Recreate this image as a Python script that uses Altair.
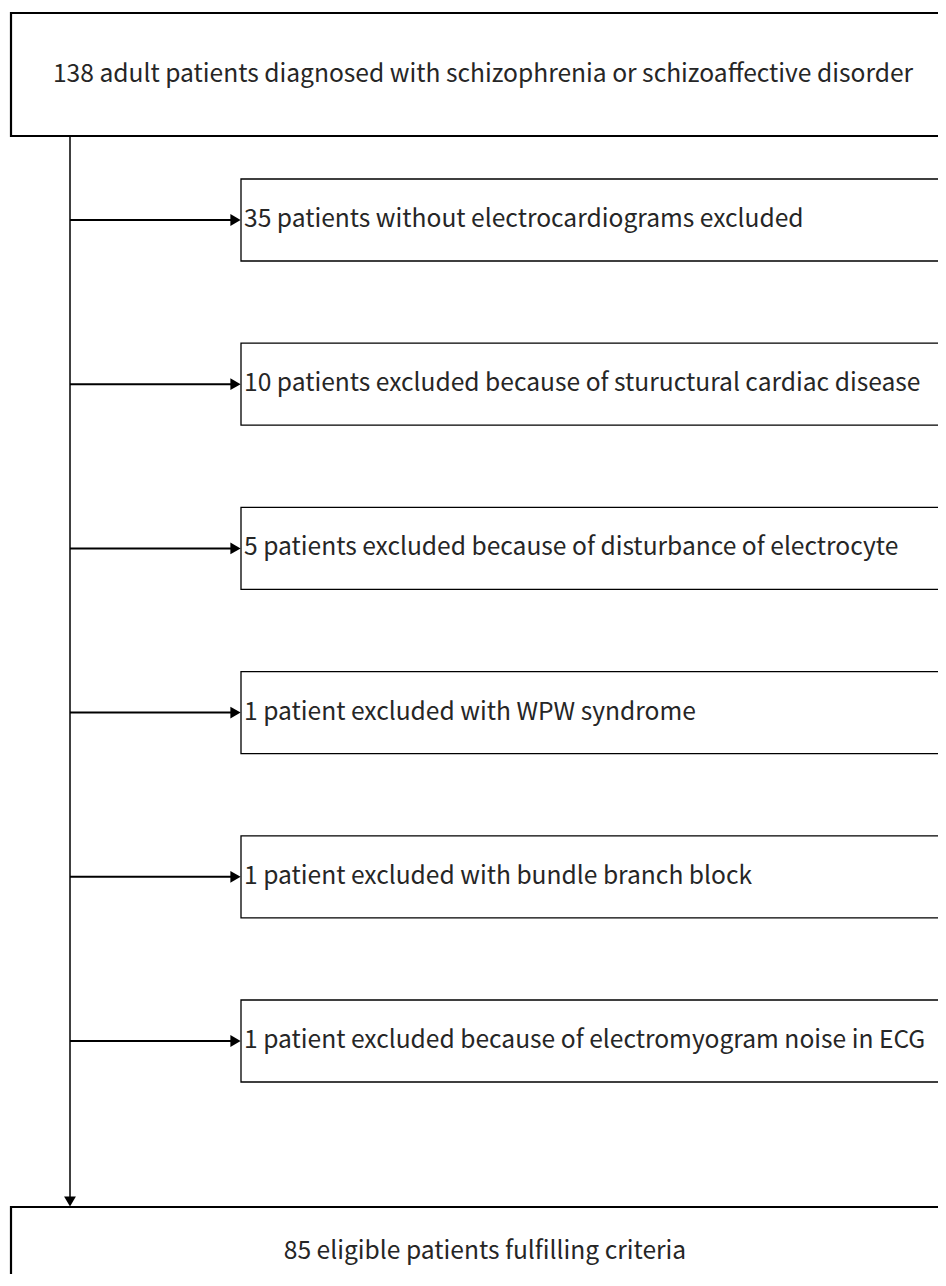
import altair as alt
import pandas as pd

# ---- content ----
top_text = ["138 adult patients diagnosed with schizophrenia or schizoaffective disorder"]
exclusion_texts = [
    "35 patients without electrocardiograms excluded",
    "10 patients excluded because of stuructural cardiac disease",
    "5 patients excluded because of disturbance of electrocyte",
    "1 patient excluded with WPW syndrome",
    "1 patient excluded with bundle branch block",
    "1 patient excluded because of electromyogram noise in ECG",
]
bottom_text = ["85 eligible patients fulfilling criteria"]

# ---- layout (page pixel coordinates) ----
W, H = 930, 1266
X0, Y0 = 8, 8
MAIN_LEFT, FAR_RIGHT = 11, 1000
TOP_Y1, TOP_Y2 = 13, 136
BOT_Y1, BOT_Y2 = 1207, 1400
SPINE_X = 70
EX_LEFT = 241
EX_TOP0, EX_STEP, EX_H = 179, 164.2, 82
FONT = "Noto Sans CJK JP"
FS = 24.6

main_df = pd.DataFrame({
    "x": [MAIN_LEFT, MAIN_LEFT], "x2": [FAR_RIGHT, FAR_RIGHT],
    "y": [TOP_Y1, BOT_Y1], "y2": [TOP_Y2, BOT_Y2],
})
main_text_df = pd.DataFrame({
    "x": [483, 485], "y": [(TOP_Y1 + TOP_Y2) / 2, 1252],
    "t": top_text + bottom_text,
})
ex_df = pd.DataFrame({
    "i": range(len(exclusion_texts)),
    "t": exclusion_texts,
})
ex_df["y"] = EX_TOP0 + ex_df["i"] * EX_STEP
ex_df["y2"] = ex_df["y"] + EX_H
ex_df["ya"] = ex_df["y"] + EX_H / 2
ex_df["x"] = EX_LEFT
ex_df["x2"] = FAR_RIGHT
ex_df["xs"] = SPINE_X
ex_df["xe"] = EX_LEFT - 7
ex_df["xh"] = EX_LEFT - 5.5
ex_df["xt"] = EX_LEFT + 3

spine_df = pd.DataFrame({"x": [SPINE_X], "y": [TOP_Y2], "y2": [BOT_Y1 - 7], "yh": [BOT_Y1 - 5.5]})

xs = alt.Scale(domain=[X0, X0 + W], nice=False, zero=False)
ys = alt.Scale(domain=[Y0, Y0 + H], reverse=True, nice=False, zero=False)

def X(f):
    return alt.X(f"{f}:Q", scale=xs, axis=None)

def Y(f):
    return alt.Y(f"{f}:Q", scale=ys, axis=None)

main_boxes = alt.Chart(main_df).mark_rect(
    fill="white", stroke="black", strokeWidth=2.2, clip=True
).encode(x=X("x"), x2="x2", y=Y("y"), y2="y2")

ex_boxes = alt.Chart(ex_df).mark_rect(
    fill="white", stroke="black", strokeWidth=1.3, clip=True
).encode(x=X("x"), x2="x2", y=Y("y"), y2="y2")

spine = alt.Chart(spine_df).mark_rule(color="black", strokeWidth=1.5).encode(
    x=X("x"), y=Y("y"), y2="y2")

down_head = alt.Chart(spine_df).mark_point(
    shape="triangle-down", filled=True, color="black", size=140, opacity=1
).encode(x=X("x"), y=Y("yh"))

h_arrows = alt.Chart(ex_df).mark_rule(color="black", strokeWidth=2).encode(
    x=X("xs"), x2="xe", y=Y("ya"))

heads = alt.Chart(ex_df).mark_point(
    shape="triangle-right", filled=True, color="black", size=140, opacity=1
).encode(x=X("xh"), y=Y("ya"))

ex_text = alt.Chart(ex_df).mark_text(
    align="left", baseline="middle", font=FONT, fontSize=FS, color="#262626"
).encode(x=X("xt"), y=Y("ya"), text="t:N")

main_text = alt.Chart(main_text_df).mark_text(
    align="center", baseline="middle", font=FONT, fontSize=FS, color="#262626"
).encode(x=X("x"), y=Y("y"), text="t:N")

chart = alt.layer(
    main_boxes, ex_boxes, spine, down_head, h_arrows, heads, ex_text, main_text
).properties(
    width=W, height=H, padding=0, autosize=alt.AutoSizeParams(type="none")
).configure_view(stroke=None)

chart.save("out.html", embed_options={"renderer": "svg", "actions": False})
